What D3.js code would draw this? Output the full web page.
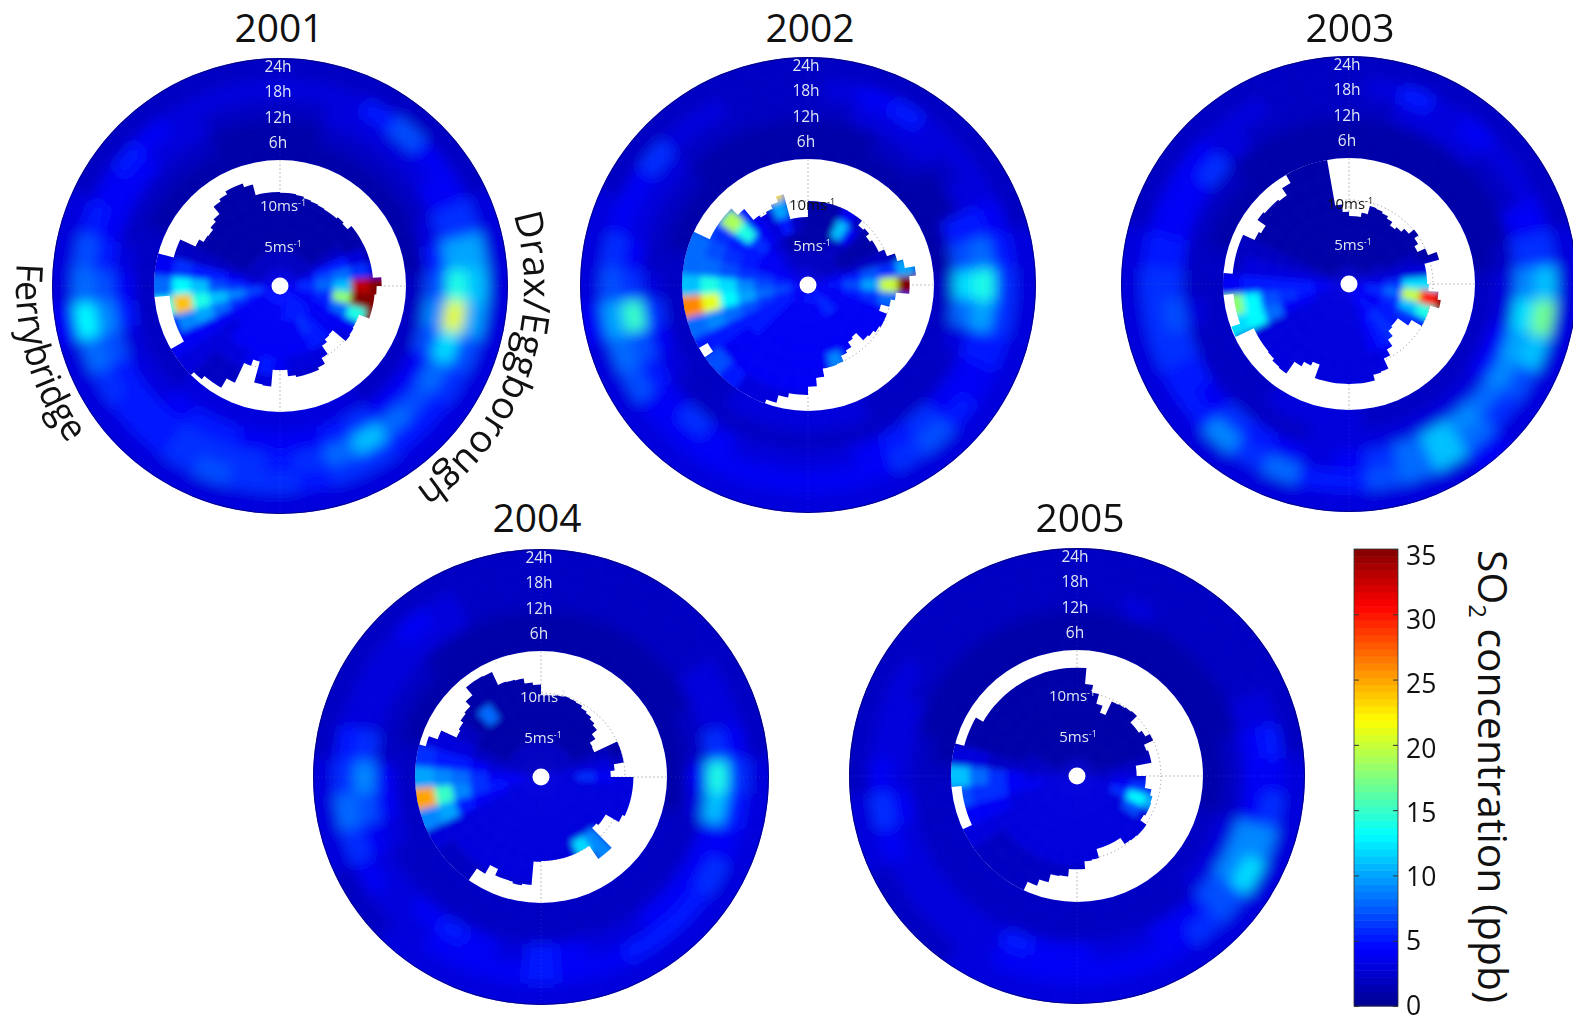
<!DOCTYPE html>
<html><head><meta charset="utf-8">
<script src="https://cdn.jsdelivr.net/npm/d3@7"></script>
<style>html,body{margin:0;padding:0;background:#fff}svg{display:block}text{font-family:"Open Sans",sans-serif}</style>
</head><body><svg id="chart" width="1573" height="1015"></svg>
<script>
// SO2 concentration (ppb). Rows: bands from centre outward. Columns: 36 sectors clockwise from north.
const years = ["2001","2002","2003","2004","2005"];
const hourTicks = [6,12,18,24];
const speedTicks = [5,10];
const colorTicks = [0,5,10,15,20,25,30,35];

const ring2001 = [
[1,1,1,1,1,1,1,1,1,2,2,2,2,2,2,3,3,3,3,3,3,3,3,2,2,2,2,2,2,2,1,1,1,1,1,1],
[1,1,2,2,2,2,2,3,5,7,9,7,4,4,4,6,5,4,4,4,5,5,4,3,3,3,5,4,3,2,2,2,2,2,1,1],
[2,2,3,3,3,3,4,6,10,14,21,12,8,7,8,11,8,6,5,6,6,6,5,5,5,7,9,7,5,4,4,4,3,3,2,2],
[3,3,3,5,7,4,4,6,10,11,10,7,6,5,5,6,6,5,6,6,7,6,5,5,6,8,13,8,7,5,4,5,4,3,3,3],
[2,2,2,2,2,2,2,3,3,3,3,3,3,3,3,3,3,3,3,3,3,3,3,3,3,3,4,3,3,3,2,2,2,2,2,2]];
const ring2002 = [
[1,1,1,1,1,1,1,1,1,2,2,2,2,2,2,2,3,3,3,3,3,3,2,2,2,2,2,2,2,1,1,1,1,1,1,1],
[1,1,1,2,2,1,1,5,7,12,8,3,2,2,2,2,2,2,2,2,2,2,2,2,3,4,6,3,2,2,2,2,1,1,1,1],
[2,2,3,3,3,2,3,5,8,14,10,5,4,4,6,5,4,3,3,3,3,4,6,4,5,7,15,6,4,3,3,3,2,2,2,2],
[2,3,4,5,3,3,3,4,5,6,6,5,4,5,7,6,4,4,4,4,4,4,4,4,7,8,10,7,6,4,4,6,3,3,2,2],
[2,2,2,2,2,2,2,2,3,3,3,3,3,3,3,3,3,3,3,3,3,3,3,3,3,3,4,3,3,3,2,2,2,2,2,2]];
const ring2003 = [
[1,1,1,1,1,1,1,1,1,2,2,2,2,2,2,2,2,2,3,3,3,3,2,2,2,2,2,2,2,1,1,1,1,1,1,1],
[1,1,1,1,1,1,1,1,2,3,3,4,4,3,3,3,3,3,3,3,2,2,2,2,2,2,3,2,2,2,2,2,1,1,1,1],
[2,2,3,3,3,2,2,4,6,9,12,10,9,8,9,11,8,6,4,3,4,5,6,4,5,6,7,6,5,4,4,6,3,2,2,2],
[2,3,5,3,4,3,3,4,6,11,17,11,7,6,8,11,8,7,5,5,8,6,9,5,5,6,6,6,5,4,4,4,3,3,2,2],
[2,2,2,2,2,2,2,2,3,3,3,3,3,3,4,3,3,3,3,3,3,3,3,3,3,3,3,3,3,2,2,2,2,2,2,2]];
const ring2004 = [
[1,1,1,1,1,1,1,1,1,1,1,2,2,2,2,2,2,2,2,2,2,2,2,2,2,2,2,2,2,1,1,1,1,1,1,1],
[1,1,1,1,1,1,1,2,2,4,3,2,2,2,2,2,2,2,2,2,2,2,2,2,2,3,4,4,2,2,2,2,1,1,1,1],
[2,2,2,2,2,2,3,3,6,14,11,4,4,4,4,3,3,4,5,3,4,5,4,3,3,4,7,9,6,3,3,3,3,3,2,2],
[2,2,2,2,2,2,3,3,4,6,5,4,6,5,5,5,4,4,5,4,4,4,3,3,4,6,8,6,5,3,3,3,4,3,2,2],
[2,2,2,2,2,2,2,2,2,3,3,3,3,3,3,3,3,3,3,3,3,3,3,2,2,3,3,3,2,2,2,2,2,2,2,2]];
const ring2005 = [
[1,1,1,1,1,1,1,1,1,1,1,2,2,2,2,2,2,2,2,2,2,2,2,2,2,2,2,2,1,1,1,1,1,1,1,1],
[1,1,1,1,1,1,1,1,2,2,2,3,3,3,2,2,2,2,2,2,2,2,2,2,2,2,2,2,2,1,1,1,1,1,1,1],
[2,2,3,2,2,2,2,3,4,4,4,9,9,7,4,4,3,3,4,4,5,3,3,3,3,3,4,3,3,3,2,2,2,2,2,2],
[2,2,2,2,2,2,2,3,5,4,6,9,12,7,6,4,4,4,4,4,4,3,3,3,3,4,6,4,3,3,3,2,2,2,2,2],
[2,2,2,2,2,2,2,2,2,3,3,3,3,3,3,3,3,3,3,3,3,3,2,2,2,3,3,2,2,2,2,2,2,2,2,2]];

const wind2001 = [
[3,3,3,3,3,3,3,3,4,4,4,4,4,5,5,5,5,5,5,5,5,5,5,5,4,4,5,4,4,3,3,3,3,3,3,3],
[2,2,2,2,2,2,2,3,5,6,5,4,4,5,5,5,5,5,4,4,4,4,4,4,4,5,7,5,3,2,2,2,2,2,2,2],
[1,1,1,1,1,1,2,5,7,8,6,5,4,4,5,6,4,4,4,4,4,4,4,4,4,6,9,6,4,2,1,1,1,1,1,1],
[1,1,1,1,1,1,2,5,8,11,18,8,4,4,5,5,4,4,4,4,4,4,4,3,4,8,11,7,5,2,1,1,1,1,1,1],
[1,1,1,1,1,1,1,3,6,33,35,14,4,3,3,3,3,3,4,5,4,3,3,3,4,10,14,11,5,2,1,1,1,1,1,1],
[1,1,1,1,1,1,1,1,3,35,35,35,3,2,2,2,2,2,2,3,2,2,2,3,4,9,24,13,6,2,1,1,1,1,1,1],
[1,1,1,1,1,1,1,1,2,35,35,2,2,2,2,2,2,2,2,2,2,2,2,3,4,5,14,8,4,2,1,1,1,1,1,1]];
const wind2002 = [
[3,3,2,2,2,3,3,3,3,4,4,4,4,5,5,5,5,5,5,5,4,4,4,4,4,4,5,5,4,4,3,3,3,3,3,3],
[2,2,2,2,2,2,2,3,4,5,4,4,4,5,6,5,4,4,4,4,4,4,4,5,5,5,7,6,5,4,4,3,3,2,2,2],
[1,1,1,2,2,1,1,2,5,7,5,4,4,4,4,4,4,4,4,4,4,4,4,5,5,6,8,7,6,4,4,4,3,2,1,1],
[1,1,1,11,4,1,1,2,7,10,6,4,4,4,4,4,4,4,4,4,4,4,4,5,5,7,10,9,6,5,5,6,4,3,5,2],
[1,1,1,4,2,1,1,2,6,20,8,4,4,4,4,4,9,4,4,4,4,4,4,4,5,8,13,12,7,6,5,14,4,3,10,3],
[1,1,1,1,1,1,1,1,10,35,6,4,4,4,4,4,5,4,4,4,4,4,4,4,5,9,21,14,8,7,6,19,5,3,23,8],
[1,1,1,1,1,1,1,1,3,35,4,3,3,3,3,3,3,3,3,3,3,3,5,7,5,8,26,11,8,8,7,8,3,2,3,2]];
const wind2003 = [
[3,2,2,2,2,2,2,3,3,4,4,4,4,4,4,4,4,4,3,3,3,3,3,3,3,3,3,3,3,2,2,2,2,2,2,2],
[1,1,1,1,1,1,2,2,3,4,6,5,4,4,5,4,4,3,3,3,3,3,3,3,3,3,4,4,3,2,1,1,1,1,1,1],
[1,1,1,1,1,1,1,2,3,6,8,6,5,5,6,5,4,3,3,3,3,3,3,3,3,4,5,5,3,2,1,1,1,1,1,1],
[1,1,1,1,1,1,1,2,3,12,20,11,6,5,6,5,4,3,3,3,3,3,3,3,3,4,6,5,3,2,1,1,1,1,1,1],
[1,1,1,1,1,1,1,1,3,12,30,14,5,4,4,4,3,3,3,3,3,3,3,3,3,8,7,5,3,2,1,1,1,1,1,1],
[1,1,1,1,1,1,1,1,2,6,35,35,3,3,3,3,3,3,3,3,3,3,3,3,3,13,13,5,3,2,1,1,1,1,1,1],
[1,1,1,1,1,1,1,1,2,3,35,3,3,3,3,3,3,3,3,3,3,3,3,3,3,12,18,4,2,2,1,1,1,1,1,1]];
const wind2004 = [
[2,2,2,2,2,2,2,3,3,3,3,3,3,3,3,3,3,3,3,3,3,3,3,3,3,3,3,3,3,2,2,2,2,2,2,2],
[2,2,2,2,2,2,2,2,3,3,3,3,3,3,3,3,3,3,3,3,3,3,3,3,3,3,4,4,3,2,2,2,2,2,2,2],
[1,1,1,1,1,1,1,2,3,6,3,3,3,3,3,3,3,3,3,3,3,3,3,3,3,4,5,4,3,2,1,1,1,1,1,1],
[1,1,1,1,1,1,1,2,3,4,3,3,3,3,3,3,3,3,3,3,3,3,3,3,3,4,6,6,4,2,1,1,1,1,1,1],
[1,1,1,1,1,1,1,1,2,3,3,3,3,3,9,12,3,3,3,3,3,3,3,3,3,5,9,8,5,3,2,1,8,1,1,1],
[1,1,1,1,1,1,1,1,2,3,3,3,3,3,9,3,3,3,3,3,3,3,3,3,3,10,15,9,5,3,2,1,1,1,1,1],
[1,1,1,1,1,1,1,1,2,2,2,2,2,2,2,2,2,2,2,2,2,2,2,2,3,9,25,10,6,3,2,1,1,1,1,1]];
const wind2005 = [
[2,2,2,2,2,2,2,2,2,2,3,3,3,3,3,3,3,3,3,3,3,3,3,3,3,3,3,3,2,2,2,2,2,2,2,2],
[1,1,1,1,1,1,1,1,2,2,3,3,3,3,3,3,3,3,3,3,3,3,3,3,3,3,3,3,2,2,1,1,1,1,1,1],
[1,1,1,1,1,1,1,1,2,3,4,6,3,3,3,3,3,3,3,3,3,3,3,3,3,3,4,3,2,2,1,1,1,1,1,1],
[1,1,1,1,1,1,1,1,2,3,6,13,7,3,3,3,3,3,3,3,3,3,3,3,3,3,4,4,2,1,1,1,1,1,1,1],
[1,1,1,1,1,1,1,1,2,3,6,10,3,3,3,3,3,3,3,3,3,3,3,3,3,4,6,6,2,1,1,1,1,1,1,1],
[1,1,1,1,1,1,1,1,1,2,2,2,2,2,2,2,2,2,2,2,2,2,2,2,3,4,6,8,3,1,1,1,1,1,1,1],
[1,1,1,1,1,1,1,1,1,1,2,2,2,2,2,2,2,2,2,2,2,2,2,2,3,4,7,11,3,1,1,1,1,1,1,1]];

// Highest wind speed with data (m/s), 72 sectors of 5 degrees clockwise from north.
const edge2001 = [11.1,11.1,11,10.8,10.7,10.6,10.5,10.5,10.7,10.5,11.1,11.1,11.1,11.1,11.1,11.1,11.1,12.1,11.5,11.3,11.3,11.3,10,10,10.1,10.2,8.2,8.3,8.7,9.9,10.7,11,11,11,10.8,10,10,12,11.9,9.3,10.1,12.7,14,14,14.5,15,15,15,13.2,13.2,13.2,13.2,13.2,15,15,15,15,13.1,13.1,11.1,10.5,10.4,10.8,11.2,12.3,12.6,13,13,12.5,11.2,11.2,11.2];
const edge2002 = [10,10,10,10,10,10,10,10,9.3,9.5,9,9.3,9.3,10,11,11.7,12.9,12.1,12.1,10.5,10,9,10,10,9.8,9.5,9.3,8.1,8.3,9,9.3,10,10.1,10.1,11.1,12.1,13.1,13.1,13.6,14.5,15,15,15,15,15,15,15,13.8,15,15,15,15,15,15,15,15,15,15,15,12.9,12.9,12.9,12.9,11.8,10.1,9.8,10,10.5,11.2,8.1,8.1,8.1];
const edge2003 = [8.1,8.1,8.6,9.6,9.5,9.3,9,8.5,8.8,9.3,10.1,9.5,9,10,11.1,9.3,9.3,9.3,9.5,10.7,11.1,10,10,10,8.6,7.1,7.1,7.3,8.1,9,9.8,11.1,11.2,11.9,11.9,11.9,11.9,11.9,11.9,11.9,10.2,10.7,11.3,13,12.9,12.6,12.5,12.5,12.5,14.9,13.8,13.8,13.8,15,15,13.9,13.9,13.9,13.9,12.4,12.1,13.3,13.1,13.1,12.9,13.9,15,15,15,15,9.5,8.6];
const edge2004 = [9.8,9.8,9.9,10,9.9,9.8,9.5,9.3,9,8.7,7.9,7.1,7,10,10,10,8.8,8.3,11,11,11,11,11,10.7,8.9,8.9,8.6,11.9,11.9,10,10,10,10,10,10,10,10.1,12.9,13.1,12.9,12.9,12.1,13.3,15,15,15,15,15,15,15,15,15,15,15,15,15,15,14.2,13.1,11.1,11.3,11.7,11.9,12.7,13.9,13.9,13.8,12.1,12,11.9,11.3,11];
const edge2005 = [12.9,11,10.1,8.9,8,9.8,9.9,10,10.1,9,9,9.4,10,8.8,9,9,7.1,7.1,8.2,8.2,9,9.3,9.4,9.4,9.2,10.1,10.1,10,9.9,9,9,9,9,10.1,10.2,11.1,11.1,12,12.1,13.1,13.9,15,15,15,15,15,15,15,15,13.8,13.8,13.8,13.8,15,15,15,15,13.9,13.9,13.9,12.9,12.9,12.9,12.9,12.9,12.9,12.9,12.9,12.9,12.9,12.9,12.9];

const ringTables = [ring2001,ring2002,ring2003,ring2004,ring2005];
const windTables = [wind2001,wind2002,wind2003,wind2004,wind2005];
const edgeTables = [edge2001,edge2002,edge2003,edge2004,edge2005];

// Layout
const panels = [
 {cx:280,cy:286,tx:279,ty:42, ten:3, five:3, tenFill:"#dfe6f2"},
 {cx:808,cy:285,tx:810,ty:42, ten:4, five:4, tenFill:"#111"},
 {cx:1349,cy:284,tx:1350,ty:42, ten:1, five:4, tenFill:"#111"},
 {cx:541,cy:777,tx:537,ty:532, ten:2, five:2, tenFill:"#dfe6f2"},
 {cx:1077,cy:776,tx:1080,ty:532, ten:-5, five:1, tenFill:"#dfe6f2"}];
const R0=126,R1=228,HOLE=8.5;

const jet = d3.scaleLinear().domain([0,4.375,13.125,21.875,30.625,35])
  .range(["#00008f","#0000ff","#00ffff","#ffff00","#ff0000","#800000"]).clamp(true);
const sectorAngle = d3.scaleLinear([0,36],[0,2*Math.PI]);
const edgeAngle = d3.scaleLinear([0,72],[0,2*Math.PI]);
const ringRadius = d3.scaleLinear([0,5],[R0,R1]);
const hourRadius = d3.scaleLinear([0,24],[R0,R1]);
const windBand = d3.scaleLinear([0,7],[0,R0]);
const speedRadius = d3.scaleLinear([0,15],[0,R0]);
const arc = d3.arc();

const svg = d3.select("#chart");
const defs = svg.append("defs");
[["blurRing",6.5],["blurWind",3]].forEach(([id,s])=>{
  defs.append("filter").attr("id",id).attr("x","-20%").attr("y","-20%").attr("width","140%").attr("height","140%")
    .append("feGaussianBlur").attr("stdDeviation",s);
});
function edgeOutline(edges){
  const ctx=d3.path();
  edges.forEach((v,k)=>ctx.arc(0,0,speedRadius(v),edgeAngle(k)-Math.PI/2,edgeAngle(k+1)-Math.PI/2));
  ctx.closePath();
  return ctx.toString();
}
function drawGrid(g,opacity,ringOpacity){
  const grid=g.append("g").attr("fill","none").attr("stroke","#8f8f9c").attr("stroke-width",1).attr("stroke-dasharray","1 3").attr("opacity",opacity);
  grid.selectAll("line.inner").data([0,90,180,270]).join("line").attr("class","inner")
    .attr("x1",0).attr("y1",-HOLE).attr("x2",0).attr("y2",-R0)
    .attr("transform",d=>`rotate(${d})`);
  grid.append("circle").attr("r",speedRadius(10));
  if(ringOpacity){
    g.append("g").attr("stroke","#9a9aa6").attr("stroke-dasharray","1 3").attr("opacity",ringOpacity)
      .selectAll("line").data([0,90,180,270]).join("line")
      .attr("x1",0).attr("y1",-R0).attr("x2",0).attr("y2",-hourRadius(24))
      .attr("transform",d=>`rotate(${d})`);
  }
}

panels.forEach((p,n)=>{
  const g = svg.append("g").attr("transform",`translate(${p.cx},${p.cy})`);
  const ringClip=`ringClip${n}`, windClip=`windClip${n}`;
  defs.append("clipPath").attr("id",ringClip).append("path")
    .attr("d",arc({innerRadius:R0,outerRadius:R1,startAngle:0,endAngle:2*Math.PI}));
  defs.append("clipPath").attr("id",windClip).append("path").attr("d",edgeOutline(edgeTables[n]));

  drawGrid(g,1,0);

  // inner wind-speed disc
  const windCells=[]; windTables[n].forEach((row,b)=>row.forEach((v,i)=>windCells.push({b,i,v})));
  g.append("g").attr("clip-path",`url(#${windClip})`).append("g").attr("filter","url(#blurWind)")
    .selectAll("path").data(windCells).join("path")
    .attr("d",d=>arc({innerRadius:windBand(d.b),outerRadius:d.b===6?R0+14:windBand(d.b+1),startAngle:sectorAngle(d.i-.5),endAngle:sectorAngle(d.i+.5)}))
    .attr("fill",d=>jet(d.v)).attr("stroke",d=>jet(d.v)).attr("stroke-width",.6);

  // outer time ring
  const ringCells=[]; ringTables[n].forEach((row,b)=>row.forEach((v,i)=>ringCells.push({b,i,v})));
  g.append("g").attr("clip-path",`url(#${ringClip})`).append("g").attr("filter","url(#blurRing)")
    .selectAll("path").data(ringCells).join("path")
    .attr("d",d=>arc({innerRadius:d.b===0?R0-18:ringRadius(d.b),outerRadius:d.b===4?R1+18:ringRadius(d.b+1),startAngle:sectorAngle(d.i-.5),endAngle:sectorAngle(d.i+.5)}))
    .attr("fill",d=>jet(d.v)).attr("stroke",d=>jet(d.v)).attr("stroke-width",.6);

  g.append("circle").attr("r",R1-.5).attr("fill","none").attr("stroke","#00006e").attr("stroke-width",1).attr("opacity",.7);

  drawGrid(g,.12,.22);
  g.append("circle").attr("r",HOLE).attr("fill","#fff");

  // hour labels
  g.selectAll("text.hour").data(hourTicks).join("text").attr("class","hour")
    .attr("x",-2).attr("y",d=>-hourRadius(d)+13.5).attr("text-anchor","middle")
    .attr("font-size",15.5).attr("fill","#dfe6f2").text(d=>d+"h");

  // speed labels
  speedTicks.forEach(s=>{
    const t=g.append("text").attr("text-anchor","middle").attr("font-size",15)
      .attr("x",s===10?p.ten:p.five).attr("y",s===10?-75:-34)
      .attr("fill",s===10?p.tenFill:"#dfe6f2");
    t.append("tspan").text(s+"ms");
    t.append("tspan").attr("font-size",9).attr("dy",-5).text("-1");
  });

  svg.append("text").attr("x",p.tx).attr("y",p.ty).attr("text-anchor","middle")
    .attr("font-size",39).attr("fill","#111").text(years[n]);
});

// site labels, drawn along circles around the 2001 panel
const c0=panels[0];
function polar(r,a){const t=a*Math.PI/180;return [c0.cx+r*Math.sin(t),c0.cy-r*Math.cos(t)];}
const dA=polar(244,73),dB=polar(244,147);
defs.append("path").attr("id","siteEast").attr("d",`M${dA}A244,244 0 0 1 ${dB}`);
const fA=polar(264,275),fB=polar(264,232);
defs.append("path").attr("id","siteWest").attr("d",`M${fA}A264,264 0 0 0 ${fB}`);
[["siteEast","Drax/Eggborough",312,38],["siteWest","Ferrybridge",192,37]].forEach(([id,label,len,fs])=>{
  svg.append("text").attr("font-size",fs).attr("fill","#111")
    .append("textPath").attr("href","#"+id).attr("textLength",len).attr("lengthAdjust","spacingAndGlyphs").text(label);
});

// colour bar
const barX=1354,barW=44,barTop=549,barBottom=1006;
const barScale=d3.scaleLinear([0,35],[barBottom,barTop]);
const labelScale=d3.scaleLinear([0,35],[1005,555]);
const levels=d3.range(64);
const bar=svg.append("g");
bar.selectAll("rect").data(levels).join("rect")
  .attr("x",barX).attr("width",barW)
  .attr("y",k=>barScale((k+1)*35/64)).attr("height",k=>barScale(k*35/64)-barScale((k+1)*35/64)+.5)
  .attr("fill",k=>jet((k+.5)*35/64));
bar.append("rect").attr("x",barX).attr("y",barTop).attr("width",barW).attr("height",barBottom-barTop)
  .attr("fill","none").attr("stroke","#333").attr("stroke-width",.8);
const axis=svg.append("g").attr("transform",`translate(${barX+barW},0)`)
  .call(d3.axisRight(barScale).tickValues(colorTicks).tickSize(-5).tickPadding(8));
axis.select(".domain").remove();
axis.selectAll("text").attr("font-size",26.5).attr("font-family",'"Open Sans",sans-serif').attr("fill","#111")
  .attr("y",v=>labelScale(v)-barScale(v)).attr("dy",".35em");
axis.selectAll("line").attr("stroke","#333");
svg.append("g").attr("transform",`translate(${barX},0)`)
  .call(d3.axisLeft(barScale).tickValues(colorTicks).tickSize(-5).tickFormat(""))
  .call(a=>a.select(".domain").remove()).selectAll("line").attr("stroke","#333");

const title=svg.append("text").attr("transform","translate(1478,550) rotate(90)").attr("font-size",41).attr("fill","#111")
  .attr("textLength",453).attr("lengthAdjust","spacingAndGlyphs");
title.append("tspan").text("SO");
title.append("tspan").attr("font-size",24).attr("dy",9).text("2");
title.append("tspan").attr("dy",-9).text(" concentration (ppb)");
</script></body></html>
